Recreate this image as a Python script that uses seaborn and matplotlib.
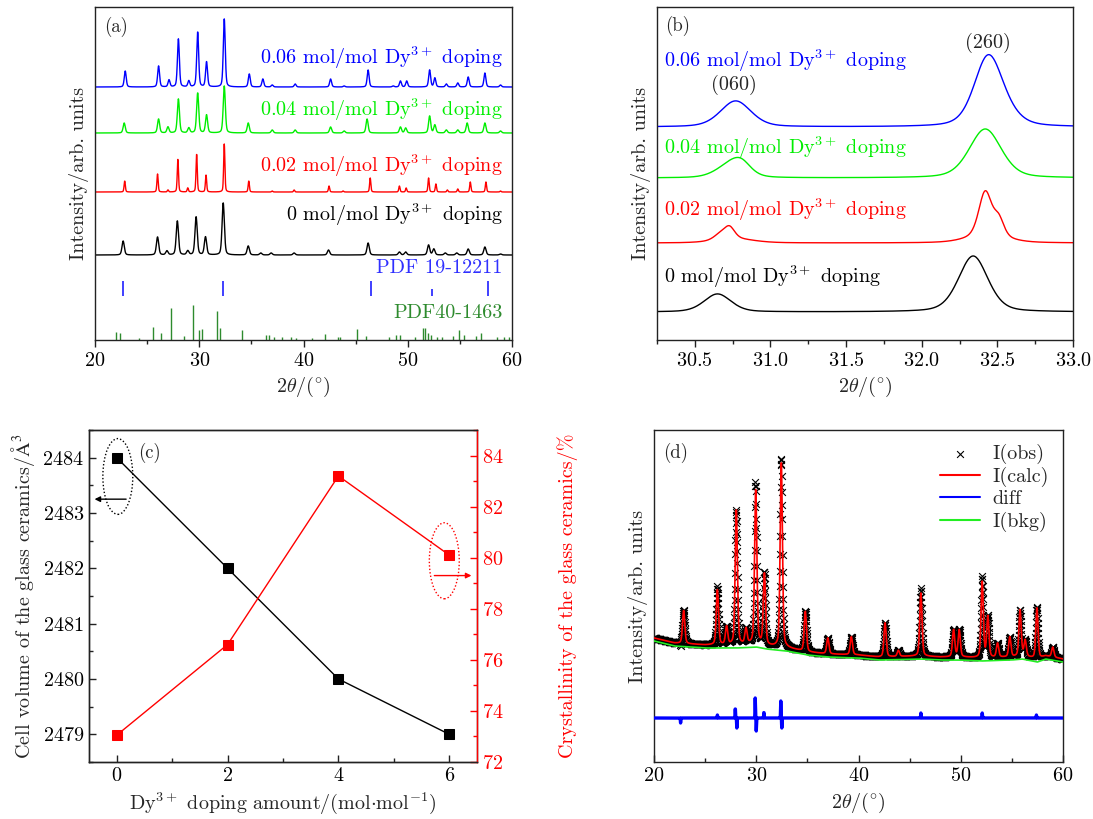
import numpy as np
import pandas as pd
import seaborn as sns
import matplotlib
matplotlib.use("Agg")
import matplotlib.pyplot as plt
from matplotlib.patches import Ellipse
from matplotlib.ticker import MultipleLocator

# ---------------- data: panel (a) peak tables (2theta, height in px) ----------------
a_blue_pos = [22.9, 26.1, 27.1, 28.0, 29.0, 29.85, 30.7, 32.4, 34.8, 36.1, 37.0, 39.2, 42.6, 43.9,
              46.2, 48.6, 49.3, 49.9, 52.1, 52.6, 53.7, 54.8, 55.8, 57.4, 58.9]
a_blue_h = [16, 21, 7, 48, 6, 55, 25, 68, 13, 8, 2, 3, 8, 1, 17, 1, 6, 6, 17, 9, 3, 4, 10, 14, 2]
a_green_pos = [22.8, 26.1, 27.0, 28.0, 29.0, 29.85, 30.7, 32.4, 34.7, 37.0, 39.2, 42.6, 43.9,
               46.1, 49.3, 49.8, 52.1, 52.6, 53.7, 54.8, 55.7, 57.4, 58.9]
a_green_h = [10, 14, 6, 34, 5, 40, 18, 47, 10, 3, 3, 6, 2, 14, 6, 5, 17, 8, 3, 3, 10, 10, 2]
a_red_pos = [22.85, 26.0, 27.0, 27.95, 28.9, 29.75, 30.65, 32.4, 34.75, 37.0, 39.1, 42.45, 43.8,
             46.4, 49.2, 49.85, 52.0, 52.7, 53.8, 54.8, 56.0, 57.5, 58.9]
a_red_h = [11, 18, 2, 33, 4, 38, 17, 48, 11, 1, 2, 6, 1, 14, 6, 4, 14, 8, 2, 3, 10, 10, 1]
a_black_pos = [22.7, 26.0, 26.9, 27.9, 28.9, 29.7, 30.6, 32.3, 34.7, 35.9, 36.9, 39.1, 42.4,
               46.2, 49.2, 49.8, 52.0, 52.5, 53.6, 54.7, 55.8, 57.4, 58.9]
a_black_h = [14, 18, 4, 34, 4, 38, 18, 52, 9, 2, 2, 2, 5, 12, 3, 3, 10, 6, 2, 2, 6, 8, 1]
a_offsets = [253, 207, 148, 85]          # blue, green, red, black baselines
a_labels = ["0.06 mol/mol Dy$^{3+}$ doping", "0.04 mol/mol Dy$^{3+}$ doping",
            "0.02 mol/mol Dy$^{3+}$ doping", "0 mol/mol Dy$^{3+}$ doping"]
pdf1_pos = [22.7, 32.3, 46.5, 52.3, 57.7]
pdf1_h = [15, 15, 15, 7, 15]
pdf2_pos = [22.0, 22.4, 24.2, 25.6, 26.3, 27.3, 28.5, 29.4, 30.0, 30.3, 31.7, 32.0, 34.1, 36.4,
            36.65, 37.2, 37.9, 38.8, 39.3, 40.85, 42.1, 43.3, 43.5, 45.1, 45.95, 48.2, 48.9,
            49.25, 50.7, 51.5, 51.7, 51.9, 52.2, 52.8, 53.3, 54.3, 54.9, 55.4, 56.5, 57.0,
            58.6, 59.2, 59.7]
pdf2_h = [8, 7, 2, 13, 7, 32, 4, 35, 10, 11, 29, 12, 10, 5, 5, 3, 3, 3, 2, 2, 6, 3, 3, 11, 4,
          3, 5, 5, 3, 12, 12, 7, 5, 3, 3, 4, 10, 5, 4, 7, 3, 3, 3]

# ---------------- panel (b) peak tables ----------------
b_blue_pos = [30.77, 32.43, 32.47]
b_blue_h = [26, 40, 34]
b_green_pos = [30.74, 30.81, 32.42]
b_green_h = [14, 9, 49]
b_red_pos = [30.67, 30.73, 30.76, 32.42, 32.51, 32.43]
b_red_h = [6, 11, 4, 44, 17, 7]
b_black_pos = [30.65, 32.34]
b_black_h = [18, 56]
b_offsets = [213, 162, 97, 28]

# ---------------- panel (c) ----------------
doping = [0, 2, 4, 6]
cell_volume = [2484, 2482, 2480, 2479]
crystallinity = [73.05, 76.6, 83.2, 80.1]

# ---------------- panel (d) ----------------
d_bkg_x = [20, 22, 25, 28, 30, 31, 33, 35, 37, 40, 42, 46, 48, 50, 52, 55, 56, 57.5, 58.3, 60]
d_bkg_y = [121, 116, 114, 114, 115, 113, 111, 107, 105, 104, 102, 103, 102, 102, 101, 102, 103, 100, 103, 100]
d_pos = [22.9, 26.2, 27.1, 28.05, 29.0, 29.95, 30.8, 32.45, 34.8, 37.0, 39.3, 42.6, 43.9, 46.1,
         49.3, 49.85, 52.1, 52.65, 53.6, 54.8, 55.8, 56.3, 57.45, 59.0]
d_h = [33, 55, 18, 135, 15, 154, 71, 185, 40, 16, 18, 34, 6, 63, 27, 27, 76, 41, 14, 20, 46, 16, 51, 10]
d_diff_pos = [22.6, 26.2, 27.95, 28.1, 29.9, 30.0, 30.75, 32.4, 32.5, 46.1, 52.1, 57.4]
d_diff_h = [-5, 3, 10, -10, 20, -13, 6, 17, -10, 5, 5, 3]
d_diff_offset = 44


def profile(x, pos, h, w, eta=0.35):
    y = np.zeros_like(x)
    for c, a in zip(pos, h):
        t = (x - c) / w
        y += a * (eta / (1 + 4 * t * t) + (1 - eta) * np.exp(-4 * np.log(2) * t * t))
    return y


# ---------------- style ----------------
sns.set_style("ticks")
plt.rcParams.update({
    "font.family": ["cmr10", "DejaVu Serif"],
    "mathtext.fontset": "cm",
    "axes.formatter.use_mathtext": True,
    "font.size": 14.5,
    "axes.linewidth": 1.0,
    "axes.edgecolor": "#222222",
    "xtick.color": "#222222",
    "ytick.color": "#222222",
    "xtick.labelcolor": "black",
    "ytick.labelcolor": "black",
})

W, H = 1093, 819
fig = plt.figure(figsize=(W / 100, H / 100), dpi=100)


def rect(x0, x1, y0, y1):
    return [x0 / W, (H - y1) / H, (x1 - x0) / W, (y1 - y0) / H]


colors4 = ["#0000FF", "#00EE00", "#FF0000", "#000000"]

# ================= (a) =================
axa = fig.add_axes(rect(95, 512, 7, 340))
xa = np.arange(20, 60.001, 0.02)
a_series = [(a_blue_pos, a_blue_h, 0.22), (a_green_pos, a_green_h, 0.24),
            (a_red_pos, a_red_h, 0.14), (a_black_pos, a_black_h, 0.26)]
for (pos, h, w), off, col in zip(a_series, a_offsets, colors4):
    df = pd.DataFrame({"x": xa, "y": off + profile(xa, pos, h, w)})
    sns.lineplot(data=df, x="x", y="y", color=col, lw=1.0, ax=axa, estimator=None, sort=False)
axa.vlines(pdf1_pos, 44, 44 + np.array(pdf1_h), color="#3030FF", lw=1.3)
axa.vlines(pdf2_pos, 0, pdf2_h, color="#2E8B2E", lw=1.0)
label_y = [0.847, 0.691, 0.523, 0.375]
for t, yy, col in zip(a_labels, label_y, colors4):
    axa.text(0.978, yy, t, color=col, transform=axa.transAxes, ha="right", va="center")
axa.text(0.978, 0.216, "PDF 19-12211", color="#3030FF", transform=axa.transAxes, ha="right", va="center")
axa.text(0.978, 0.081, "PDF40-1463", color="#2E8B2E", transform=axa.transAxes, ha="right", va="center")
axa.text(0.022, 0.94, "(a)", transform=axa.transAxes, ha="left", va="center", fontsize=13.5)
axa.set_xlim(20, 60)
axa.set_ylim(0, 333)
axa.set_yticks([])
axa.xaxis.set_major_locator(MultipleLocator(10))
axa.xaxis.set_minor_locator(MultipleLocator(5))
axa.tick_params(axis="x", which="major", direction="out", length=5, width=1)
axa.tick_params(axis="x", which="minor", direction="out", length=3, width=1)
axa.set_xlabel(r"2$\theta$/($^{\circ}$)")
axa.set_ylabel("Intensity/arb. units")

# ================= (b) =================
axb = fig.add_axes(rect(657, 1073, 7, 340))
xb = np.arange(30.25, 33.0001, 0.005)
b_series = [(b_blue_pos, b_blue_h, [0.24, 0.2, 0.26]),
            (b_green_pos, b_green_h, [0.22, 0.14, 0.25]),
            (b_red_pos, b_red_h, [0.1, 0.08, 0.3, 0.1, 0.08, 0.3]),
            (b_black_pos, b_black_h, [0.21, 0.23])]
for (pos, h, ws), off, col in zip(b_series, b_offsets, colors4):
    y = np.full_like(xb, off)
    for c, a, w in zip(pos, h, ws):
        y = y + profile(xb, [c], [a], w)
    df = pd.DataFrame({"x": xb, "y": y})
    sns.lineplot(data=df, x="x", y="y", color=col, lw=1.0, ax=axb, estimator=None, sort=False)
b_label_y = [0.838, 0.577, 0.39, 0.189]
for t, yy, col in zip(a_labels, b_label_y, colors4):
    axb.text(0.017, yy, t, color=col, transform=axb.transAxes, ha="left", va="center")
axb.text(30.76, 0.766 * 333, "(060)", ha="center", va="center")
axb.text(32.44, 0.892 * 333, "(260)", ha="center", va="center")
axb.text(0.02, 0.943, "(b)", transform=axb.transAxes, ha="left", va="center", fontsize=13.5)
axb.set_xlim(30.25, 33.0)
axb.set_ylim(0, 333)
axb.set_yticks([])
axb.xaxis.set_major_locator(MultipleLocator(0.5))
axb.xaxis.set_minor_locator(MultipleLocator(0.25))
axb.tick_params(axis="x", which="major", direction="out", length=5, width=1)
axb.tick_params(axis="x", which="minor", direction="out", length=3, width=1)
axb.set_xlabel(r"2$\theta$/($^{\circ}$)")
axb.set_ylabel("Intensity/arb. units")

# ================= (c) =================
axc = fig.add_axes(rect(89, 477, 430, 762))
axc2 = axc.twinx()
sns.lineplot(x=doping, y=cell_volume, ax=axc, color="black", lw=1.0, marker="s",
             markersize=7, markeredgecolor="black")
sns.lineplot(x=doping, y=crystallinity, ax=axc2, color="red", lw=1.0, marker="s",
             markersize=7, markeredgecolor="red")
axc.set_xlim(-0.5, 6.5)
axc.set_ylim(2478.5, 2484.5)
axc2.set_ylim(72, 85)
axc.xaxis.set_major_locator(MultipleLocator(2))
axc.xaxis.set_minor_locator(MultipleLocator(1))
axc.yaxis.set_major_locator(MultipleLocator(1))
axc.yaxis.set_minor_locator(MultipleLocator(0.5))
axc2.yaxis.set_major_locator(MultipleLocator(2))
axc2.yaxis.set_minor_locator(MultipleLocator(1))
axc.tick_params(which="major", direction="in", length=5, width=1)
axc.tick_params(which="minor", direction="in", length=3, width=1)
axc2.tick_params(which="major", direction="in", length=5, width=1, color="red", labelcolor="red")
axc2.tick_params(which="minor", direction="in", length=3, width=1, color="red")
axc2.spines["right"].set_color("red")
axc.set_xlabel(r"Dy$^{3+}$ doping amount/(mol$\cdot$mol$^{-1}$)")
axc.set_ylabel(r"Cell volume of the glass ceramics/$\mathrm{\AA}^3$", math_fontfamily="stix")
axc2.set_ylabel("Crystallinity of the glass ceramics/%", color="red", labelpad=39)
axc.add_patch(Ellipse((0.02, 2483.66), 0.54, 1.37, fill=False, ls=(0, (1, 1.5)), lw=1.0, ec="black"))
axc.annotate("", xy=(-0.45, 2483.25), xytext=(0.22, 2483.25),
             arrowprops=dict(arrowstyle="-|>", color="black", lw=1.0, mutation_scale=8))
axc2.add_patch(Ellipse((5.91, 79.88), 0.54, 2.98, fill=False, ls=(0, (1, 1.5)), lw=1.0, ec="red"))
axc2.annotate("", xy=(6.45, 79.3), xytext=(5.68, 79.3),
              arrowprops=dict(arrowstyle="-|>", color="red", lw=1.0, mutation_scale=8))
axc.text(0.126, 0.93, "(c)", transform=axc.transAxes, ha="left", va="center", fontsize=13.5)

# ================= (d) =================
axd = fig.add_axes(rect(654, 1063, 430, 762))
xd = np.arange(20, 60.001, 0.02)
bkg = np.interp(xd, d_bkg_x, d_bkg_y)
calc = bkg + 3 + profile(xd, d_pos, d_h, 0.26)
diff = profile(xd, d_diff_pos, d_diff_h, 0.05, eta=0.0)
obs = calc + diff
sns.scatterplot(x=xd, y=obs, ax=axd, marker="x", color="black", s=24, linewidth=0.8,
                label="I(obs)", zorder=2)
sns.lineplot(x=xd, y=calc, ax=axd, color="red", lw=1.2, label="I(calc)", estimator=None, sort=False, zorder=3)
sns.lineplot(x=xd, y=d_diff_offset + diff, ax=axd, color="#0000FF", lw=2.4, label="diff",
             estimator=None, sort=False, zorder=3)
sns.lineplot(x=xd, y=bkg, ax=axd, color="#22EE22", lw=1.2, label="I(bkg)", estimator=None, sort=False, zorder=3)
axd.set_xlim(20, 60)
axd.set_ylim(0, 332)
axd.set_yticks([])
axd.xaxis.set_major_locator(MultipleLocator(10))
axd.xaxis.set_minor_locator(MultipleLocator(5))
axd.tick_params(axis="x", which="major", direction="in", length=5, width=1)
axd.tick_params(axis="x", which="minor", direction="in", length=3, width=1)
axd.set_xlabel(r"2$\theta$/($^{\circ}$)")
axd.set_ylabel("Intensity/arb. units")
leg = axd.legend(loc="upper right", frameon=False, handlelength=2.0, borderaxespad=0.3,
                 labelspacing=0.15, handletextpad=0.6, fontsize=14.5)
for lh in leg.legend_handles[1:]:
    lh.set_linewidth(1.5)
axd.text(0.022, 0.93, "(d)", transform=axd.transAxes, ha="left", va="center", fontsize=13.5)

fig.savefig("out.png", dpi=100)
